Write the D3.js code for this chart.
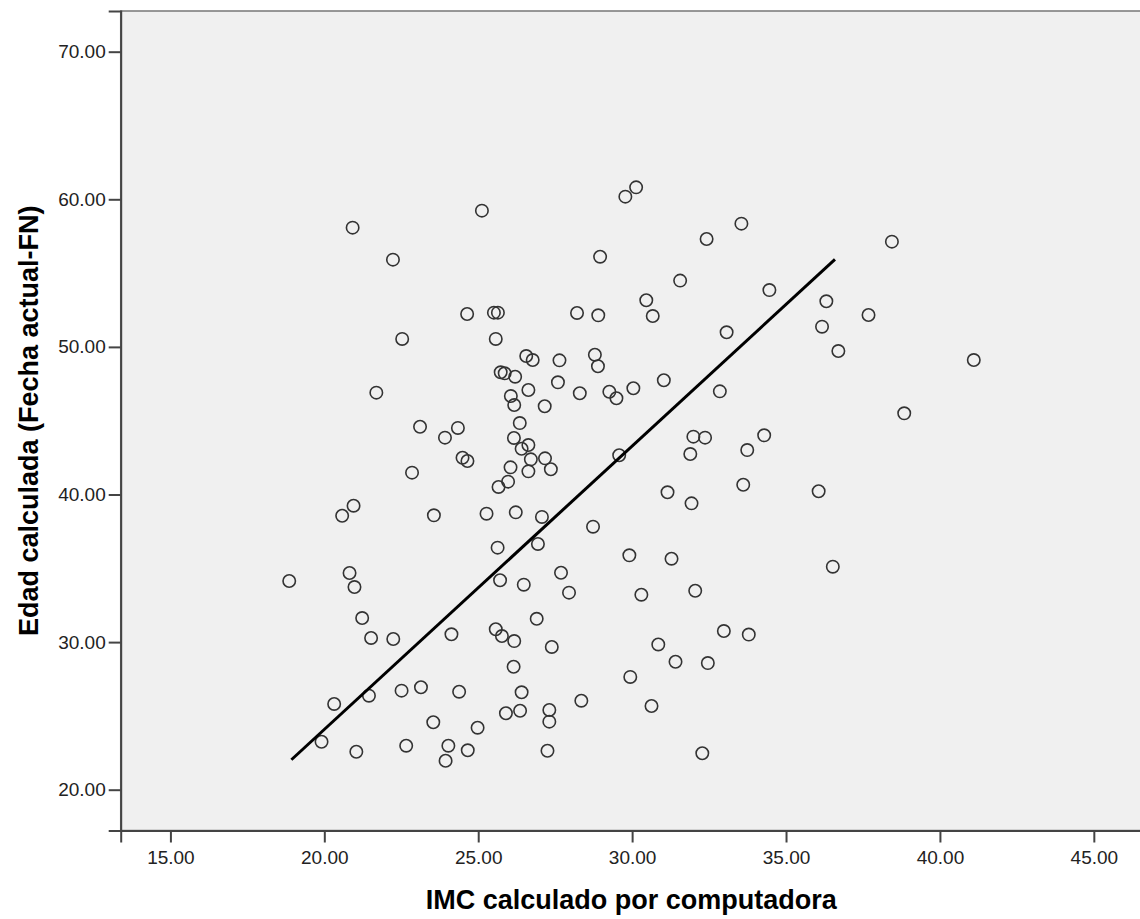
<!DOCTYPE html>
<html>
<head>
<meta charset="utf-8">
<script src="https://cdn.jsdelivr.net/npm/d3@7"></script>
<style>
  body { margin: 0; background: #fff; }
  svg text { font-family: "Liberation Sans", Arial, sans-serif; }
  .axis text { font-size: 19px; fill: #222; }
  .axis path, .axis line { stroke: #444; stroke-width: 2; }
  .label { font-size: 27px; font-weight: bold; fill: #000; }
</style>
</head>
<body>
<svg id="chart"></svg>
<script>
// IMC (x) and Edad (y)
const imc = [25.12, 20.92, 22.23, 24.64, 25.51, 25.64, 22.53, 25.57, 26.56, 26.77,
  25.73, 25.86, 26.20, 21.69, 26.63, 26.06, 26.17, 27.16, 30.13, 29.78,
  33.55, 32.42, 28.96, 31.56, 34.46, 36.31, 30.46, 30.67, 28.21, 28.90,
  36.17, 33.07, 36.70, 27.64, 28.79, 28.89, 27.59, 28.30, 29.26, 29.49,
  30.04, 31.03, 32.85, 38.44, 37.68, 41.10, 38.84, 23.11, 24.34, 23.92,
  26.35, 26.16, 26.63, 26.41, 26.71, 27.17, 27.36, 24.49, 24.65, 22.85,
  26.05, 26.63, 25.97, 25.66, 20.95, 20.58, 23.56, 25.27, 26.22, 27.07,
  26.94, 25.63, 18.86, 20.82, 20.98, 25.71, 26.48, 26.90, 21.23, 21.52,
  22.24, 24.13, 25.57, 25.77, 26.17, 27.39, 31.99, 32.37, 34.29, 33.74,
  31.89, 29.58, 31.15, 31.93, 33.61, 36.06, 28.73, 29.91, 31.28, 36.52,
  27.69, 27.95, 30.30, 32.05, 32.98, 33.79, 30.85, 26.15, 22.51, 23.14,
  24.38, 26.41, 21.45, 20.32, 25.90, 26.36, 27.31, 27.31, 23.54, 24.98,
  19.91, 21.04, 22.66, 24.03, 23.94, 24.66, 27.25, 31.41, 32.46, 29.94,
  28.35, 30.63, 32.28];

const edad = [59.23, 58.08, 55.91, 52.23, 52.32, 52.32, 50.54, 50.54, 49.38, 49.11,
  48.28, 48.21, 47.98, 46.90, 47.08, 46.67, 46.06, 45.98, 60.81, 60.18,
  58.35, 57.31, 56.11, 54.49, 53.85, 53.09, 53.16, 52.09, 52.30, 52.14,
  51.37, 50.99, 49.72, 49.09, 49.47, 48.69, 47.60, 46.86, 46.96, 46.52,
  47.20, 47.74, 46.99, 57.13, 52.16, 49.11, 45.50, 44.59, 44.51, 43.85,
  44.84, 43.83, 43.35, 43.10, 42.38, 42.45, 41.71, 42.49, 42.27, 41.48,
  41.84, 41.57, 40.87, 40.51, 39.24, 38.56, 38.59, 38.70, 38.79, 38.48,
  36.65, 36.40, 34.14, 34.68, 33.73, 34.19, 33.89, 31.58, 31.63, 30.28,
  30.21, 30.53, 30.87, 30.41, 30.07, 29.67, 43.92, 43.85, 44.01, 43.01,
  42.74, 42.66, 40.15, 39.40, 40.66, 40.22, 37.82, 35.88, 35.65, 35.11,
  34.70, 33.35, 33.21, 33.48, 30.75, 30.51, 29.84, 28.33, 26.71, 26.94,
  26.64, 26.60, 26.37, 25.81, 25.18, 25.35, 25.40, 24.61, 24.57, 24.20,
  23.25, 22.57, 22.98, 22.98, 21.96, 22.67, 22.64, 28.67, 28.58, 27.64,
  26.03, 25.67, 22.47];

// fit line end points
const fitX = [18.93, 36.59];
const fitY = [22.03, 55.93];

const xTicks = [15, 20, 25, 30, 35, 40, 45];
const yTicks = [20, 30, 40, 50, 60, 70];
const xDomain = [13.385, 46.565];
const yDomain = [17.236, 72.757];

const xLabel = "IMC calculado por computadora";
const yLabel = "Edad calculada (Fecha actual-FN)";

class ScatterPlot {
  constructor(_config) {
    this.config = {
      parentElement: _config.parentElement,
      containerWidth: 1140,
      containerHeight: 919,
      margin: { top: 11, right: -2, bottom: 88.5, left: 120.7 },
    };
    this.initVis();
  }

  initVis() {
    let vis = this;
    vis.width = vis.config.containerWidth - vis.config.margin.left - vis.config.margin.right;
    vis.height = vis.config.containerHeight - vis.config.margin.top - vis.config.margin.bottom;

    vis.xScale = d3.scaleLinear().domain(xDomain).range([0, vis.width]);
    vis.yScale = d3.scaleLinear().domain(yDomain).range([vis.height, 0]);

    vis.svg = d3.select(vis.config.parentElement)
      .attr("width", vis.config.containerWidth)
      .attr("height", vis.config.containerHeight);

    vis.chart = vis.svg.append("g")
      .attr("transform", `translate(${vis.config.margin.left},${vis.config.margin.top})`);

    // plot background + frame
    vis.chart.append("rect")
      .attr("width", vis.width)
      .attr("height", vis.height)
      .attr("fill", "#f0f0f0")
      .attr("stroke", "#777")
      .attr("stroke-width", 1.5);

    vis.xAxis = d3.axisBottom(vis.xScale).tickValues(xTicks)
      .tickFormat(d3.format(".2f")).tickSizeOuter(0).tickSize(12).tickPadding(8);
    vis.yAxis = d3.axisLeft(vis.yScale).tickValues(yTicks)
      .tickFormat(d3.format(".2f")).tickSizeOuter(0).tickSize(12).tickPadding(3);

    vis.chart.append("g")
      .attr("class", "axis x-axis")
      .attr("transform", `translate(0,${vis.height})`)
      .call(vis.xAxis);

    vis.chart.append("g")
      .attr("class", "axis y-axis")
      .call(vis.yAxis);

    vis.svg.append("text")
      .attr("class", "label")
      .attr("text-anchor", "middle")
      .attr("x", vis.config.margin.left + vis.width / 2)
      .attr("y", 909)
      .text(xLabel);

    vis.svg.append("text")
      .attr("class", "label")
      .attr("text-anchor", "middle")
      .attr("transform", `translate(38,${vis.config.margin.top + vis.height / 2}) rotate(-90)`)
      .text(yLabel);
  }

  renderVis() {
    let vis = this;
    const points = imc.map((d, i) => ({ x: d, y: edad[i] }));

    vis.chart.selectAll(".dot")
      .data(points)
      .join("circle")
      .attr("class", "dot")
      .attr("cx", (d) => vis.xScale(d.x))
      .attr("cy", (d) => vis.yScale(d.y))
      .attr("r", 6.2)
      .attr("fill", "none")
      .attr("stroke", "#333")
      .attr("stroke-width", 1.6);

    const line = d3.line()
      .x((d) => vis.xScale(d[0]))
      .y((d) => vis.yScale(d[1]));

    vis.chart.append("path")
      .datum(fitX.map((d, i) => [d, fitY[i]]))
      .attr("d", line)
      .attr("fill", "none")
      .attr("stroke", "#000")
      .attr("stroke-width", 3);
  }
}

const plot = new ScatterPlot({ parentElement: "#chart" });
plot.renderVis();
</script>
</body>
</html>
